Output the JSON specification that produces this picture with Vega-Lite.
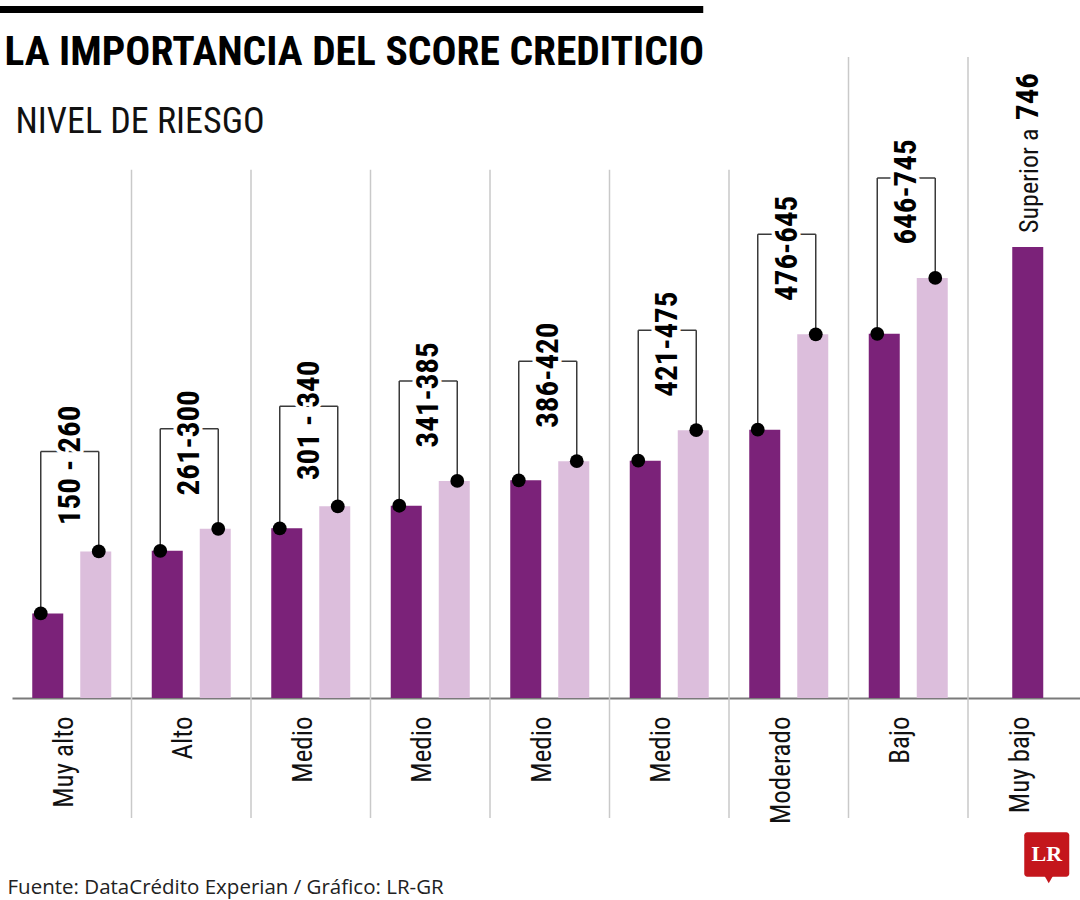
{
  "$schema": "https://vega.github.io/schema/vega-lite/v6.json",
  "width": 1068,
  "height": 563.8,
  "autosize": {"type": "none"},
  "padding": {"left": 12, "top": 134.2, "right": 0, "bottom": 202},
  "background": "white",
  "config": {"view": {"stroke": null}, "axis": {"grid": false}},
  "data": {"name": "niveles"},
  "datasets": {
    "niveles": [
      {"id": "Muy alto", "nivel": "Muy alto", "min": 150, "max": 260, "rango": "150 - 260"},
      {"id": "Alto", "nivel": "Alto", "min": 261, "max": 300, "rango": "261-300"},
      {"id": "Medio_1", "nivel": "Medio", "min": 301, "max": 340, "rango": "301 - 340"},
      {"id": "Medio_2", "nivel": "Medio", "min": 341, "max": 385, "rango": "341-385"},
      {"id": "Medio_3", "nivel": "Medio", "min": 386, "max": 420, "rango": "386-420"},
      {"id": "Medio_4", "nivel": "Medio", "min": 421, "max": 475, "rango": "421-475"},
      {"id": "Moderado", "nivel": "Moderado", "min": 476, "max": 645, "rango": "476-645"},
      {"id": "Bajo", "nivel": "Bajo", "min": 646, "max": 745, "rango": "646-745"},
      {"id": "Muy bajo", "nivel": "Muy bajo", "min": 746, "max": null, "altura": 800, "prefijo": "Superior a", "umbral": "746"}
    ]
  },
  "resolve": {"axis": {"x": "independent", "y": "independent"}},
  "layer": [
    {
      "transform": [{"filter": "indexof(['Alto','Medio_1','Medio_2','Medio_3','Medio_4','Moderado'], datum.id) >= 0"}],
      "mark": {"type": "rule", "color": "#c9c9c9", "strokeWidth": 1.5},
      "encoding": {
        "x": {"field": "id", "type": "nominal", "bandPosition": 0, "axis": null},
        "y": {"datum": 937, "type": "quantitative", "axis": null},
        "y2": {"datum": -213}
      }
    },
    {
      "transform": [{"filter": "datum.id == 'Bajo' || datum.id == 'Muy bajo'"}],
      "mark": {"type": "rule", "color": "#c9c9c9", "strokeWidth": 1.5},
      "encoding": {
        "x": {"field": "id", "type": "nominal", "bandPosition": 0, "axis": null},
        "y": {"datum": 1137, "type": "quantitative", "axis": null},
        "y2": {"datum": -213}
      }
    },
    {
      "transform": [{"filter": "datum.max != null"}],
      "mark": {"type": "bar", "width": 31, "xOffset": -24, "color": "#7b2279"},
      "encoding": {
        "x": {
          "field": "id",
          "type": "nominal",
          "scale": {
            "type": "band",
            "domain": ["Muy alto", "Alto", "Medio_1", "Medio_2", "Medio_3", "Medio_4", "Moderado", "Bajo", "Muy bajo"],
            "range": [0, 1075.5],
            "paddingInner": 0,
            "paddingOuter": 0
          },
          "axis": {
            "orient": "bottom",
            "title": "Fuente: DataCrédito Experian / Gráfico: LR-GR",
            "titleX": -5,
            "titleY": 195,
            "titleAlign": "left",
            "titleBaseline": "alphabetic",
            "titleAngle": 0,
            "titleFont": "Open Sans",
            "titleFontSize": 20.5,
            "titleFontWeight": "normal",
            "titleColor": "#222222",
            "labelAngle": 270,
            "labelAlign": "right",
            "labelBaseline": "alphabetic",
            "labelOffset": 1,
            "labelPadding": 18,
            "labelFont": "'Liberation Sans Narrow', 'Roboto Condensed', 'DejaVu Sans Condensed', sans-serif",
            "labelFontSize": 27,
            "labelColor": "#111111",
            "labelExpr": "split(datum.label, '_')[0]",
            "labelOverlap": false,
            "ticks": false,
            "domain": true,
            "labels": true,
            "domainColor": "#7a7a7a",
            "domainWidth": 2,
            "grid": false
          }
        },
        "y": {
          "field": "min",
          "type": "quantitative",
          "scale": {"domain": [0, 1000], "nice": false, "zero": true},
          "axis": {
            "orient": "left",
            "title": "LA IMPORTANCIA DEL SCORE CREDITICIO",
            "domain": false,
            "ticks": false,
            "labels": false,
            "grid": false,
            "titleAngle": 0,
            "titleAlign": "left",
            "titleBaseline": "alphabetic",
            "titleX": -8,
            "titleY": -70.2,
            "titleFont": "'Liberation Sans Narrow', 'Roboto Condensed', 'DejaVu Sans Condensed', sans-serif",
            "titleFontSize": 41.5,
            "titleFontWeight": "bold",
            "titleColor": "#000000"
          }
        }
      }
    },
    {
      "transform": [{"filter": "datum.max != null"}],
      "mark": {"type": "bar", "width": 31, "xOffset": 24, "color": "#dcbedc"},
      "encoding": {
        "x": {"field": "id", "type": "nominal", "axis": null},
        "y": {"field": "max", "type": "quantitative", "axis": null}
      }
    },
    {
      "transform": [{"filter": "datum.max == null"}],
      "mark": {"type": "bar", "width": 31, "color": "#7b2279"},
      "encoding": {
        "x": {"field": "id", "type": "nominal", "axis": null},
        "y": {"field": "altura", "type": "quantitative", "axis": null}
      }
    },
    {
      "transform": [{"filter": "datum.max != null"}],
      "mark": {"type": "rule", "color": "#3a3a3a", "strokeWidth": 1.5, "xOffset": -31, "y2Offset": -100},
      "encoding": {
        "x": {"field": "id", "type": "nominal", "axis": null},
        "y": {"field": "min", "type": "quantitative", "axis": null},
        "y2": {"field": "max"}
      }
    },
    {
      "transform": [{"filter": "datum.max != null"}],
      "mark": {"type": "rule", "color": "#3a3a3a", "strokeWidth": 1.5, "xOffset": 27, "y2Offset": -100},
      "encoding": {
        "x": {"field": "id", "type": "nominal", "axis": null},
        "y": {"field": "max", "type": "quantitative", "axis": null},
        "y2": {"field": "max"}
      }
    },
    {
      "transform": [{"filter": "datum.max != null"}],
      "mark": {"type": "rule", "color": "#3a3a3a", "strokeWidth": 1.5, "xOffset": -31, "x2Offset": 27, "yOffset": -100},
      "encoding": {
        "x": {"field": "id", "type": "nominal", "axis": null},
        "x2": {"field": "id"},
        "y": {"field": "max", "type": "quantitative", "axis": null}
      }
    },
    {
      "transform": [{"filter": "datum.max != null"}],
      "mark": {"type": "text", "angle": 270, "align": "center", "baseline": "alphabetic", "xOffset": 8, "yOffset": -86, "font": "'Liberation Sans Narrow', 'Roboto Condensed', 'DejaVu Sans Condensed', sans-serif", "fontSize": 31, "fontWeight": "bold", "fill": "white", "stroke": "white", "strokeWidth": 7, "strokeJoin": "round"},
      "encoding": {
        "x": {"field": "id", "type": "nominal", "axis": null},
        "y": {"field": "max", "type": "quantitative", "axis": null},
        "text": {"field": "rango"}
      }
    },
    {
      "transform": [{"filter": "datum.max != null"}],
      "mark": {"type": "text", "angle": 270, "align": "center", "baseline": "alphabetic", "xOffset": 8, "yOffset": -86, "font": "'Liberation Sans Narrow', 'Roboto Condensed', 'DejaVu Sans Condensed', sans-serif", "fontSize": 31, "fontWeight": "bold", "color": "#000000"},
      "encoding": {
        "x": {"field": "id", "type": "nominal", "axis": null},
        "y": {"field": "max", "type": "quantitative", "axis": null},
        "text": {"field": "rango"}
      }
    },
    {
      "transform": [{"filter": "datum.max != null"}],
      "mark": {"type": "point", "filled": true, "color": "#000000", "size": 190, "opacity": 1, "xOffset": -31},
      "encoding": {
        "x": {"field": "id", "type": "nominal", "axis": null},
        "y": {"field": "min", "type": "quantitative", "axis": null}
      }
    },
    {
      "transform": [{"filter": "datum.max != null"}],
      "mark": {"type": "point", "filled": true, "color": "#000000", "size": 190, "opacity": 1, "xOffset": 27},
      "encoding": {
        "x": {"field": "id", "type": "nominal", "axis": null},
        "y": {"field": "max", "type": "quantitative", "axis": null}
      }
    },
    {
      "transform": [{"filter": "datum.max == null"}],
      "mark": {"type": "text", "angle": 270, "align": "left", "baseline": "alphabetic", "xOffset": 10, "yOffset": -127, "font": "'Liberation Sans Narrow', 'Roboto Condensed', 'DejaVu Sans Condensed', sans-serif", "fontSize": 31, "fontWeight": "bold", "color": "#000000"},
      "encoding": {
        "x": {"field": "id", "type": "nominal", "axis": null},
        "y": {"field": "altura", "type": "quantitative", "axis": null},
        "text": {"field": "umbral"}
      }
    },
    {
      "transform": [{"filter": "datum.max == null"}],
      "mark": {"type": "text", "angle": 270, "align": "left", "baseline": "alphabetic", "xOffset": 10, "yOffset": -14, "font": "'Liberation Sans Narrow', 'Roboto Condensed', 'DejaVu Sans Condensed', sans-serif", "fontSize": 26, "color": "#111111"},
      "encoding": {
        "x": {"field": "id", "type": "nominal", "axis": null},
        "y": {
          "field": "altura",
          "type": "quantitative",
          "axis": {
            "orient": "right",
            "title": "NIVEL DE RIESGO",
            "domain": false,
            "ticks": false,
            "labels": false,
            "grid": false,
            "titleAngle": 0,
            "titleAlign": "left",
            "titleBaseline": "alphabetic",
            "titleX": -1065,
            "titleY": -2.2,
            "titleFont": "'Liberation Sans Narrow', 'Roboto Condensed', 'DejaVu Sans Condensed', sans-serif",
            "titleFontSize": 36,
            "titleFontWeight": "normal",
            "titleColor": "#111111"
          }
        },
        "text": {"field": "prefijo"}
      }
    },
    {
      "data": {"values": [{}]},
      "mark": {"type": "rule", "color": "#000000", "strokeWidth": 7, "xOffset": -72, "x2Offset": 34},
      "encoding": {
        "x": {"datum": "Muy alto", "type": "nominal", "axis": null},
        "x2": {"datum": "Medio_4"},
        "y": {"datum": 1221, "type": "quantitative", "axis": null}
      }
    },
    {
      "data": {"values": [{}]},
      "mark": {"type": "bar", "width": 45, "xOffset": 19, "color": "#c4161c", "cornerRadius": 3},
      "encoding": {
        "x": {"datum": "Muy bajo", "type": "nominal", "axis": null},
        "y": {"datum": -238, "type": "quantitative", "axis": null},
        "y2": {"datum": -317}
      }
    },
    {
      "data": {"values": [{}]},
      "mark": {"type": "point", "shape": "triangle-down", "filled": true, "opacity": 1, "size": 70, "xOffset": 21, "color": "#c4161c"},
      "encoding": {
        "x": {"datum": "Muy bajo", "type": "nominal", "axis": null},
        "y": {"datum": -322, "type": "quantitative", "axis": null}
      }
    },
    {
      "data": {"values": [{}]},
      "mark": {"type": "text", "text": "LR", "align": "center", "baseline": "middle", "xOffset": 19, "font": "'Liberation Serif', 'DejaVu Serif', serif", "fontWeight": "bold", "fontSize": 22, "color": "#ffffff"},
      "encoding": {
        "x": {"datum": "Muy bajo", "type": "nominal", "axis": null},
        "y": {"datum": -277, "type": "quantitative", "axis": null}
      }
    }
  ]
}
